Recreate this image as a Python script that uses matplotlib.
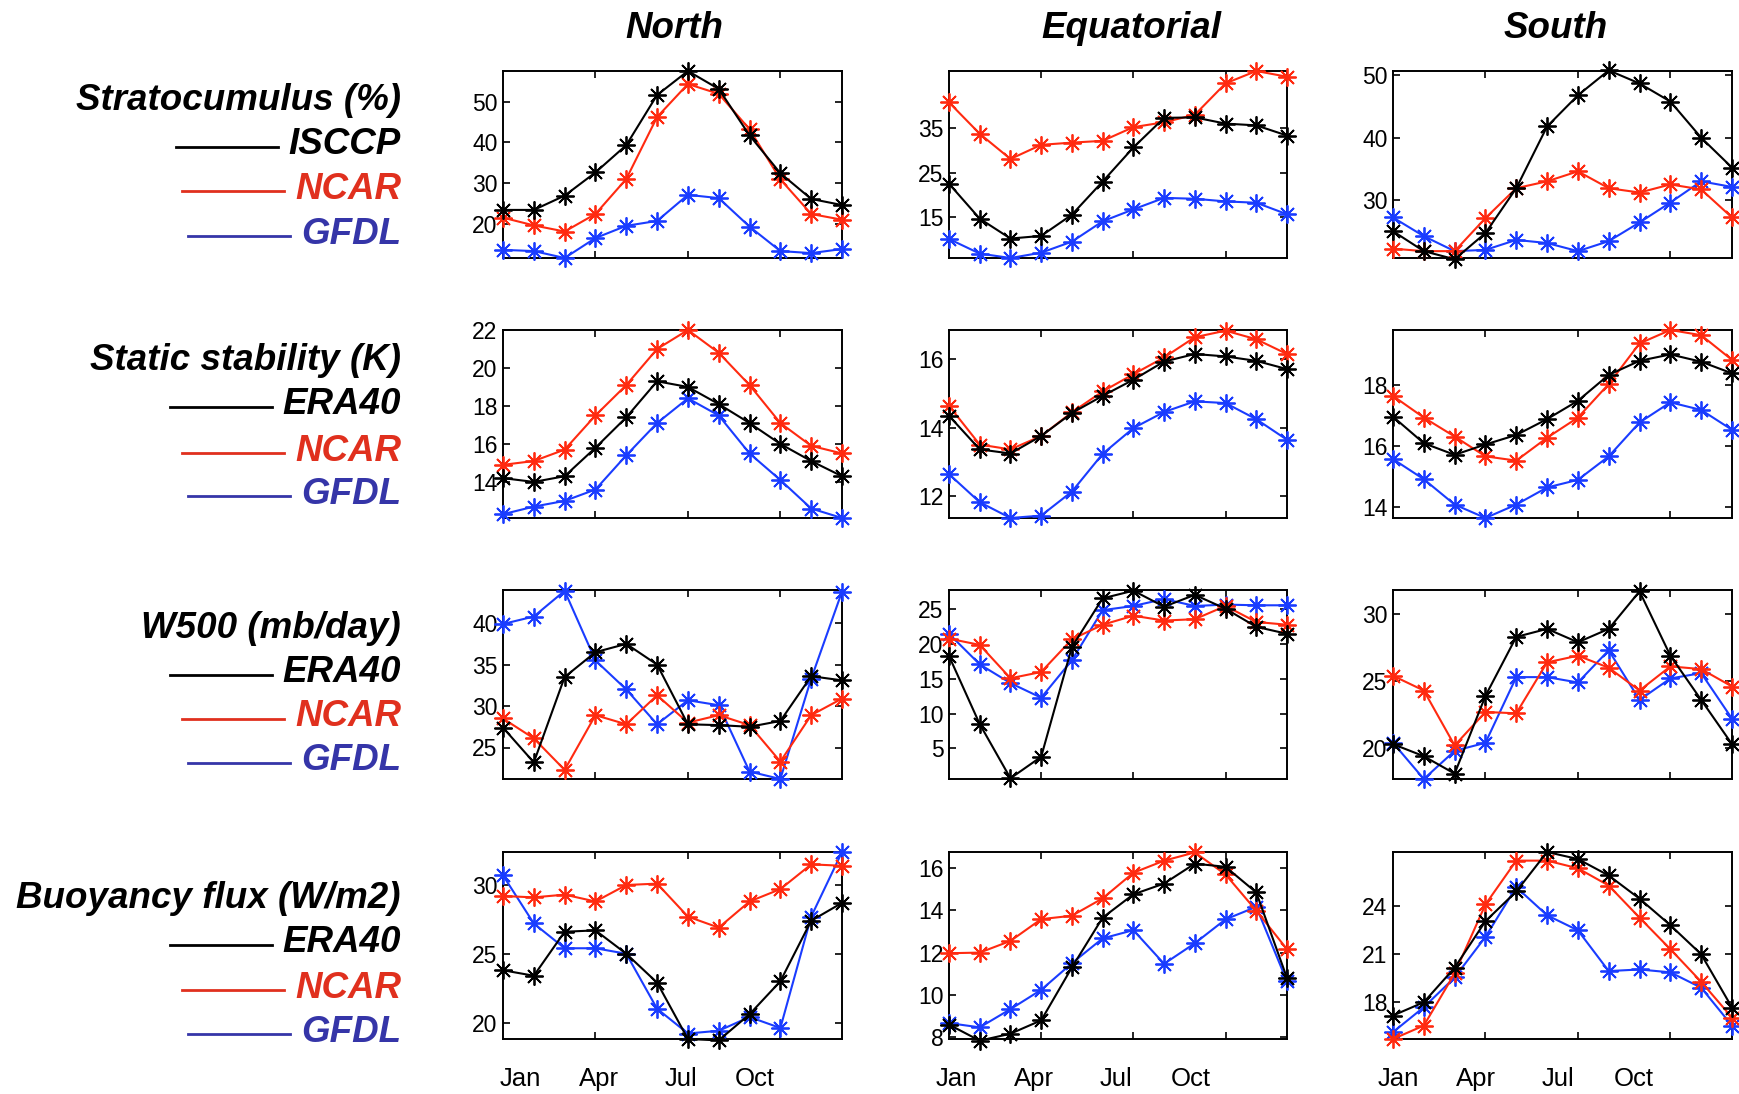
import numpy as np
import matplotlib
matplotlib.use("Agg")
import matplotlib.pyplot as plt
from matplotlib.lines import Line2D
import matplotlib.transforms as mtransforms

plt.rcParams['font.family'] = ['Liberation Sans', 'DejaVu Sans']

months = np.arange(1, 13)
month_names = ['Jan', 'Apr', 'Jul', 'Oct']
regions = ['North', 'Equatorial', 'South']

# ---------------- Stratocumulus (%) ----------------
sc_north_obs = [23.4, 23.4, 26.9, 32.6, 39.3, 51.6, 57.5, 53.1, 41.7, 32.4, 26.1, 24.6]
sc_north_ncar = [21.5, 19.6, 18.1, 22.4, 31.0, 46.2, 54.3, 51.9, 43.2, 30.9, 22.4, 21.0]
sc_north_gfdl = [13.6, 13.3, 11.6, 16.5, 19.5, 20.7, 27.1, 26.3, 19.3, 13.3, 12.8, 13.8]
sc_eq_obs = [22.5, 14.6, 10.1, 10.7, 15.5, 23.0, 30.7, 37.4, 37.5, 36.1, 35.7, 33.4]
sc_eq_ncar = [40.9, 33.8, 28.1, 31.3, 31.8, 32.2, 35.3, 36.4, 38.1, 45.2, 48.0, 46.7]
sc_eq_gfdl = [10.0, 6.7, 5.7, 6.9, 9.4, 14.0, 16.7, 19.3, 19.1, 18.5, 18.2, 15.6]
sc_south_obs = [25.0, 21.8, 20.5, 24.7, 31.9, 41.8, 46.8, 50.8, 48.7, 45.8, 40.0, 35.2]
sc_south_ncar = [22.2, 21.8, 21.8, 27.1, 31.9, 33.0, 34.6, 31.9, 31.2, 32.5, 31.7, 27.2]
sc_south_gfdl = [27.2, 24.2, 21.8, 22.0, 23.6, 23.1, 21.8, 23.4, 26.4, 29.6, 33.0, 32.1]

# ---------------- Static stability (K) ----------------
ss_north_obs = [14.2, 14.0, 14.3, 15.8, 17.4, 19.3, 19.0, 18.1, 17.1, 16.0, 15.1, 14.3]
ss_north_ncar = [14.9, 15.1, 15.7, 17.5, 19.1, 21.0, 22.0, 20.8, 19.1, 17.1, 15.9, 15.5]
ss_north_gfdl = [12.3, 12.7, 13.0, 13.6, 15.4, 17.1, 18.4, 17.5, 15.5, 14.1, 12.6, 12.1]
ss_eq_obs = [14.35, 13.37, 13.25, 13.76, 14.43, 14.93, 15.40, 15.93, 16.15, 16.08, 15.95, 15.71]
ss_eq_ncar = [14.64, 13.51, 13.37, 13.76, 14.45, 15.06, 15.56, 16.05, 16.64, 16.83, 16.58, 16.15]
ss_eq_gfdl = [12.65, 11.83, 11.37, 11.44, 12.14, 13.24, 13.99, 14.46, 14.77, 14.72, 14.25, 13.65]
ss_south_obs = [16.96, 16.09, 15.71, 16.05, 16.36, 16.88, 17.48, 18.33, 18.79, 19.0, 18.76, 18.38]
ss_south_ncar = [17.64, 16.93, 16.31, 15.66, 15.52, 16.27, 16.93, 18.03, 19.36, 19.8, 19.63, 18.82]
ss_south_gfdl = [15.57, 14.91, 14.08, 13.64, 14.08, 14.64, 14.89, 15.66, 16.77, 17.43, 17.18, 16.53]

# ---------------- W500 (mb/day) ----------------
w_north_obs = [27.4, 23.2, 33.5, 36.5, 37.5, 35.0, 27.8, 27.7, 27.5, 28.2, 33.6, 33.1]
w_north_ncar = [28.5, 26.1, 22.3, 28.9, 27.8, 31.3, 28.0, 28.9, 27.7, 23.3, 28.9, 30.9]
w_north_gfdl = [39.9, 40.8, 43.9, 35.5, 32.0, 27.8, 30.7, 30.1, 22.1, 21.2, 33.3, 43.8]
w_eq_obs = [18.3, 8.5, 0.7, 3.8, 19.6, 26.6, 27.7, 25.4, 27.1, 25.1, 22.5, 21.5]
w_eq_ncar = [20.8, 19.9, 15.1, 16.0, 20.7, 22.8, 24.1, 23.4, 23.6, 25.5, 23.2, 22.8]
w_eq_gfdl = [21.5, 17.1, 14.4, 12.3, 17.7, 24.9, 25.5, 26.5, 25.5, 25.7, 25.6, 25.6]
w_south_obs = [20.3, 19.4, 18.1, 23.9, 28.3, 28.9, 27.9, 28.9, 31.7, 26.9, 23.6, 20.3]
w_south_ncar = [25.4, 24.3, 20.2, 22.7, 22.6, 26.4, 26.9, 26.0, 24.3, 26.1, 25.9, 24.6]
w_south_gfdl = [20.4, 17.7, 19.8, 20.4, 25.3, 25.3, 24.9, 27.3, 23.6, 25.2, 25.6, 22.2]

# ---------------- Buoyancy flux (W/m2) ----------------
bf_north_obs = [23.8, 23.4, 26.6, 26.7, 25.0, 22.9, 18.8, 18.7, 20.6, 23.0, 27.4, 28.7]
bf_north_ncar = [29.2, 29.1, 29.3, 28.8, 30.0, 30.1, 27.7, 26.9, 28.8, 29.7, 31.5, 31.4]
bf_north_gfdl = [30.7, 27.2, 25.4, 25.4, 25.0, 21.0, 19.2, 19.4, 20.4, 19.6, 27.7, 32.4]
bf_eq_obs = [8.6, 7.84, 8.17, 8.8, 11.3, 13.65, 14.75, 15.26, 16.2, 16.05, 14.84, 10.8]
bf_eq_ncar = [11.97, 12.0, 12.55, 13.58, 13.74, 14.56, 15.77, 16.34, 16.73, 15.69, 13.98, 12.16]
bf_eq_gfdl = [8.67, 8.47, 9.33, 10.24, 11.5, 12.67, 13.06, 11.47, 12.44, 13.57, 14.16, 10.64]
bf_south_obs = [17.17, 18.0, 20.16, 23.07, 24.93, 27.4, 26.96, 25.93, 24.48, 22.82, 21.0, 17.67]
bf_south_ncar = [15.7, 16.54, 19.8, 24.12, 26.86, 26.86, 26.38, 25.3, 23.29, 21.32, 19.28, 17.04]
bf_south_gfdl = [16.13, 17.69, 19.55, 22.09, 25.2, 23.44, 22.5, 19.95, 20.05, 19.87, 18.91, 16.54]

row_titles = ['Stratocumulus (%)', 'Static stability (K)', 'W500 (mb/day)', 'Buoyancy flux (W/m2)']
row_obs_names = ['ISCCP', 'ERA40', 'ERA40', 'ERA40']
model_names = ['NCAR', 'GFDL']

panels = [
    [(sc_north_obs, sc_north_ncar, sc_north_gfdl), (sc_eq_obs, sc_eq_ncar, sc_eq_gfdl), (sc_south_obs, sc_south_ncar, sc_south_gfdl)],
    [(ss_north_obs, ss_north_ncar, ss_north_gfdl), (ss_eq_obs, ss_eq_ncar, ss_eq_gfdl), (ss_south_obs, ss_south_ncar, ss_south_gfdl)],
    [(w_north_obs, w_north_ncar, w_north_gfdl), (w_eq_obs, w_eq_ncar, w_eq_gfdl), (w_south_obs, w_south_ncar, w_south_gfdl)],
    [(bf_north_obs, bf_north_ncar, bf_north_gfdl), (bf_eq_obs, bf_eq_ncar, bf_eq_gfdl), (bf_south_obs, bf_south_ncar, bf_south_gfdl)],
]

# axis limits and ticks
ylims = [
    [(11.6, 57.5), (5.7, 48.0), (20.7, 50.7)],
    [(12.1, 22.0), (11.37, 16.85), (13.64, 19.8)],
    [(21.2, 44.0), (0.6, 27.8), (17.7, 31.8)],
    [(18.8, 32.4), (7.92, 16.75), (15.7, 27.4)],
]
yticks = [
    [[20, 30, 40, 50], [15, 25, 35], [30, 40, 50]],
    [[14, 16, 18, 20, 22], [12, 14, 16], [14, 16, 18]],
    [[25, 30, 35, 40], [5, 10, 15, 20, 25], [20, 25, 30]],
    [[20, 25, 30], [8, 10, 12, 14, 16], [18, 21, 24]],
]
month_label_x = [[1.55, 4.12, 6.78, 9.18], [1.23, 3.76, 6.42, 8.86], [1.16, 3.69, 6.36, 8.82]]

line_colors = ['black', '#ff2a10', '#1a3cff']
legend_colors = ['black', '#e0301e', '#3535a8']

W, H = 1739, 1094
fig = plt.figure(figsize=(W / 100, H / 100), dpi=100)

col_left = [503, 949, 1393]
col_width = [339, 338, 339]
row_top = [71, 330, 590, 852]
row_bot = [258, 518, 779, 1039]

for r in range(4):
    for c in range(3):
        ax = fig.add_axes([col_left[c] / W, 1 - row_bot[r] / H,
                           col_width[c] / W, (row_bot[r] - row_top[r]) / H])
        for s in range(3):
            ax.plot(months, panels[r][c][s], color=line_colors[s], lw=1.5,
                    marker=(8, 2, 0), ms=13, mew=1.3, clip_on=False, zorder=3 - s * 0.1)
        ax.set_xlim(1, 12)
        ax.set_ylim(*ylims[r][c])
        ax.set_xticks([4, 7, 10])
        ax.set_xticklabels([])
        ax.set_yticks(yticks[r][c])
        ax.tick_params(direction='in', top=True, right=True, length=5, width=1.2,
                       labelsize=16.5, pad=4)
        for sp in ax.spines.values():
            sp.set_linewidth(1.4)
        if r == 3:
            # month names sit below the last row, in figure y
            tr = mtransforms.blended_transform_factory(ax.transData, fig.transFigure)
            for name, xm in zip(month_names, month_label_x[c]):
                ax.text(xm, 1 - 1079 / H, name, transform=tr,
                        ha='center', va='center', fontsize=18.5)

title_x = [674, 1131, 1556]
for c in range(3):
    fig.text(title_x[c] / W, 1 - 29 / H, regions[c], ha='center', va='center',
             fontsize=26.5, fontweight='bold', fontstyle='italic')

label_right = 401 / W
row_label_y = [[100, 145, 189, 234], [360, 405, 451, 494], [628, 673, 717, 761], [898, 943, 988, 1032]]
items = []
for r in range(4):
    ys = row_label_y[r]
    fig.text(label_right, 1 - ys[0] / H, row_titles[r], ha='right', va='center',
             fontsize=26.5, fontweight='bold', fontstyle='italic')
    names = [row_obs_names[r]] + model_names
    for k in range(3):
        t = fig.text(label_right, 1 - ys[k + 1] / H, names[k], ha='right', va='center',
                     fontsize=26.5, fontweight='bold', fontstyle='italic',
                     color=legend_colors[k])
        items.append((t, ys[k + 1], legend_colors[k]))

fig.canvas.draw()
renderer = fig.canvas.get_renderer()
for t, y, col in items:
    bb = t.get_window_extent(renderer)
    x_end = bb.x0 - 11
    x_start = x_end - 102
    fig.add_artist(Line2D([x_start / W, x_end / W], [1 - (y + 2) / H, 1 - (y + 2) / H],
                          transform=fig.transFigure, color=col, lw=2.0))

fig.savefig('out.png', dpi=100)
